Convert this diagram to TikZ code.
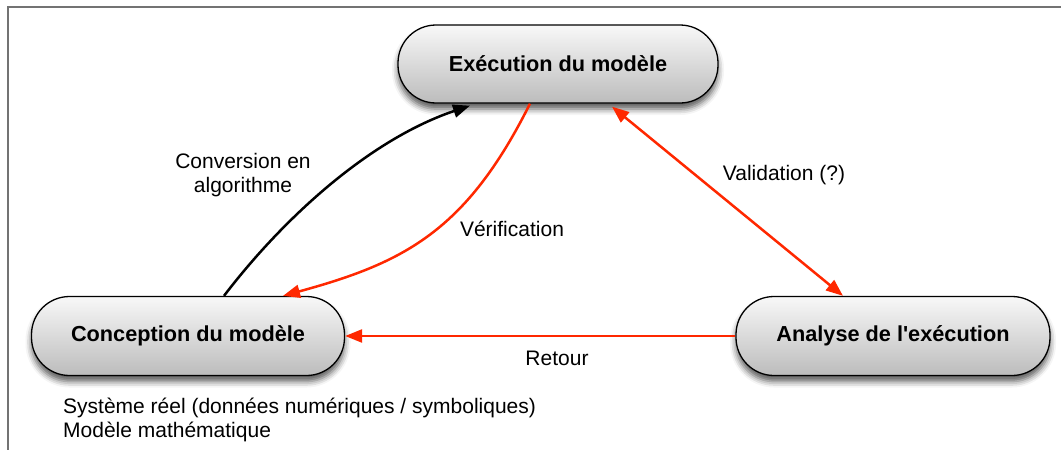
\documentclass[tikz,border=0pt]{standalone}
\usepackage{fontspec}
\setmainfont{Liberation Sans}
\usetikzlibrary{arrows.meta,shadows.blur}
\definecolor{redline}{RGB}{255,40,0}
\definecolor{frame}{RGB}{115,115,115}
\definecolor{topshade}{RGB}{248,248,248}
\definecolor{botshade}{RGB}{188,188,188}
\begin{document}
\begin{tikzpicture}[x=1pt,y=-1pt,
  pill/.style={draw=black,line width=1.3pt,rounded corners=38pt,
    top color=topshade,bottom color=botshade,
    blur shadow={shadow xshift=0pt,shadow yshift=-6pt,shadow blur radius=6pt,shadow opacity=65},
    font=\fontsize{21.7}{26}\selectfont\bfseries,inner sep=0pt},
  lbl/.style={font=\fontsize{21}{24}\selectfont,align=center,inner sep=0pt},
  blk/.style={draw=black,line width=2.5pt,-{Triangle[length=17pt,width=13pt]}},
  red/.style={draw=redline,line width=2.5pt,-{Triangle[length=17pt,width=13pt]}},
  redd/.style={draw=redline,line width=2.5pt,{Triangle[length=17pt,width=13pt]}-{Triangle[length=17pt,width=13pt]}}
]
\useasboundingbox (0,0) rectangle (1061,450);
\draw[frame,line width=2pt] (8,451) -- (8,7) -- (1062,7);

\node[pill,minimum width=320pt,minimum height=78pt] (exec) at (558,64) {Exécution du modèle};
\node[pill,minimum width=313pt,minimum height=79pt] (conc) at (188,336) {Conception du modèle};
\node[pill,minimum width=314pt,minimum height=79pt] (anal) at (893,336) {Analyse de l\textquotesingle exécution};

\draw[blk] ([xshift=36pt]conc.north) .. controls (285,216) and (371,139) .. ([xshift=-88pt,yshift=-2pt]exec.south);
\draw[red] ([xshift=-28pt]exec.south) .. controls (466,232) and (403,263) .. ([xshift=95pt]conc.north);
\draw[redd] ([xshift=54pt,yshift=-3pt]exec.south) -- ([xshift=-50pt]anal.north);
\draw[red] (anal.west) -- (conc.east);

\node[lbl] (lconv) at (243,175) {Conversion en\\algorithme};
\node[lbl] (lverif) at (512,229) {Vérification};
\node[lbl] (lvalid) at (784,175) {Validation (?)};
\node[lbl] (lret) at (557,358) {Retour};
\node[lbl,align=left,anchor=north west] (lsys) at (63,398) {Système réel (données numériques / symboliques)\\Modèle mathématique};
\end{tikzpicture}
\end{document}
